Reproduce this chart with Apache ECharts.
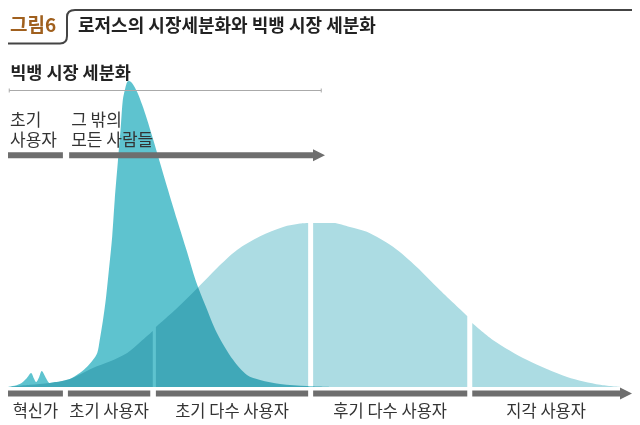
<!DOCTYPE html>
<html>
<head>
<meta charset="utf-8">
<script src="https://cdn.jsdelivr.net/npm/echarts@6/dist/echarts.min.js"></script>
<style>
  html, body { margin: 0; padding: 0; background: #fff; }
  #chart { width: 640px; height: 425px; }
</style>
</head>
<body>
<div id="chart"></div>
<script>
const FONT = '"Noto Sans CJK KR", "Noto Sans", sans-serif';

// 로저스 곡선(종 모양). x: 시간 0~100, y: 상대 규모. '-' = 구간 사이 흰 틈
const rogersX = [0, 3.5, 6.7, 9.9, 13.6, 16.3, 19.1, 21.2, 23.2, 23.45, 23.7, 27.1, 30.4, 33.5, 36.7, 40.4, 44.1, 46.8, 48.1,
  48.5, 48.9, 52.1, 54.8, 57.5, 61.7, 65.5, 69.2, 73.6, 74.0, 74.4, 77.7, 83.2, 89.6, 94.9, 98.1];
const rogersY = [0, 0.7, 1.3, 2.6, 6.2, 8.3, 11.1, 14.7, 18.3, '-', 19.6, 25.8, 32.4, 38.9, 44.8, 49.3, 52.3, 53.4, 53.6,
  '-', 53.6, 53.6, 52.3, 50.7, 45.8, 39.2, 31.7, 23.2, '-', 20.9, 15.4, 8.8, 3.3, 0.7, 0];

// 빅뱅 곡선
const bigBangX = [0, 1.9, 3.0, 3.7, 4.2, 4.5, 5.0, 5.4, 6.1, 6.7, 7.5, 8.7, 9.9, 11.5, 12.8, 13.6, 14.3, 14.7, 15.2, 15.7,
  16.2, 16.7, 17.1, 17.6, 18.1, 18.4, 18.8, 19.1, 19.4, 19.9, 20.7, 21.5, 22.3, 23.9, 25.5, 27.1, 28.7, 30.1, 31.6,
  33.5, 36.1, 38.3, 40.4, 43.6, 47.9, 51.6];
const bigBangY = [0, 1.0, 2.9, 4.6, 2.6, 1.6, 3.3, 5.2, 2.9, 1.3, 1.6, 2.0, 2.6, 4.6, 6.9, 8.8, 11.1, 15.4, 21.6, 29.1,
  38.9, 49.3, 61.1, 73.5, 85.9, 93.8, 97.7, 99.7, 100, 99.3, 96.4, 92.2, 87.3, 76.5, 65.4, 54.6, 44.1, 34.6, 26.8,
  17.6, 8.8, 3.9, 2.3, 1.0, 0.3, 0];

// 로저스 시장 세분화 구간
const segNames = ['혁신가', '초기 사용자', '초기 다수 사용자', '후기 다수 사용자', '지각 사용자'];
const segStart = [0, 9.6, 23.7, 48.9, 74.4];
const segEnd = [8.8, 22.8, 48.1, 73.6, 100];

// 빅뱅 시장 세분화 구간
const bbTitle = '빅뱅 시장 세분화';
const bbNames = ['초기\n사용자', '그 밖의\n모든 사람들'];
const bbStart = [0, 9.8];
const bbEnd = [8.8, 50.8];
const bbSpan = [0.2, 50.2];

const GRAY = '#6e6e6e';
const HEAD = 12;

const chart = echarts.init(document.getElementById('chart'));

const rule = { stroke: '#444', lineWidth: 2, fill: null };

const option = {
  backgroundColor: '#fff',
  animation: false,
  grid: { left: 8, right: 8, top: 50.4, bottom: 38 },
  xAxis: { type: 'value', min: 0, max: 100, show: false },
  yAxis: { type: 'value', min: 0, max: 110, show: false },
  graphic: [
    { type: 'line', shape: { x1: 8, y1: 43.5, x2: 60, y2: 43.5 }, style: rule },
    { type: 'bezierCurve', shape: { x1: 60, y1: 43.5, cpx1: 66, cpy1: 43.5, cpx2: 67, cpy2: 40, x2: 67, y2: 36 }, style: rule },
    { type: 'line', shape: { x1: 67, y1: 36, x2: 67, y2: 17 }, style: rule },
    { type: 'bezierCurve', shape: { x1: 67, y1: 17, cpx1: 67, cpy1: 12.5, cpx2: 69, cpy2: 10, x2: 75, y2: 10 }, style: rule },
    { type: 'line', shape: { x1: 75, y1: 10, x2: 632, y2: 10 }, style: rule },
    {
      type: 'text', left: 10, top: 15,
      style: { text: '그림6', font: 'bold 19px ' + FONT, fill: '#a0601e' }
    },
    {
      type: 'text', left: 78, top: 16,
      style: { text: '로저스의 시장세분화와 빅뱅 시장 세분화', font: 'bold 18px ' + FONT, fill: '#222' }
    }
  ],
  series: [
    {
      name: '로저스',
      type: 'line',
      z: 2,
      smooth: 0.3,
      showSymbol: false,
      silent: true,
      lineStyle: { width: 0 },
      areaStyle: { color: '#acdce3', opacity: 1 },
      data: rogersX.map((x, i) => [x, rogersY[i]])
    },
    {
      name: '빅뱅',
      type: 'line',
      z: 3,
      smooth: 0.3,
      showSymbol: false,
      silent: true,
      blendMode: 'multiply',
      lineStyle: { width: 0 },
      areaStyle: { color: '#5ec3cf', opacity: 1 },
      data: bigBangX.map((x, i) => [x, bigBangY[i]])
    },
    {
      // 아래쪽 구간 막대 + 이름
      type: 'custom',
      z: 4,
      silent: true,
      data: segNames.map((n, i) => [segStart[i], segEnd[i], i]),
      renderItem: (params, api) => {
        const i = api.value(2);
        const p0 = api.coord([api.value(0), 0]);
        const p1 = api.coord([api.value(1), 0]);
        const y = p0[1] + 6.5;
        const last = i === segNames.length - 1;
        const barEnd = last ? p1[0] - HEAD : p1[0];
        const children = [
          { type: 'rect', shape: { x: p0[0], y: y - 3, width: barEnd - p0[0], height: 6 }, style: { fill: GRAY } },
          {
            type: 'text',
            style: {
              text: segNames[i], x: (p0[0] + barEnd) / 2, y: y + 17,
              align: 'center', verticalAlign: 'middle', font: '16.5px ' + FONT, fill: '#333'
            }
          }
        ];
        if (last) {
          children.push({ type: 'polygon', shape: { points: [[barEnd, y - 6], [p1[0], y], [barEnd, y + 6]] }, style: { fill: GRAY } });
        }
        return { type: 'group', children };
      }
    },
    {
      // 빅뱅 구간 화살표
      type: 'custom',
      z: 4,
      silent: true,
      data: bbNames.map((n, i) => [bbStart[i], bbEnd[i], i]),
      renderItem: (params, api) => {
        const i = api.value(2);
        const p0 = api.coord([api.value(0), 75.7]);
        const p1 = api.coord([api.value(1), 75.7]);
        const y = p0[1];
        const last = i === bbNames.length - 1;
        const barEnd = last ? p1[0] - HEAD : p1[0];
        const children = [
          { type: 'rect', shape: { x: p0[0], y: y - 3, width: barEnd - p0[0], height: 6 }, style: { fill: GRAY } },
          {
            type: 'text',
            style: {
              text: bbNames[i], x: p0[0] + 2, y: y - 6,
              align: 'left', verticalAlign: 'bottom', lineHeight: 20, font: '17px ' + FONT, fill: '#333'
            }
          }
        ];
        if (last) {
          children.push({ type: 'polygon', shape: { points: [[barEnd, y - 6], [p1[0], y], [barEnd, y + 6]] }, style: { fill: GRAY } });
        }
        return { type: 'group', children };
      }
    },
    {
      // 빅뱅 시장 세분화 범위
      type: 'custom',
      z: 4,
      silent: true,
      data: [[bbSpan[0], bbSpan[1]]],
      renderItem: (params, api) => {
        const p0 = api.coord([api.value(0), 97.2]);
        const p1 = api.coord([api.value(1), 97.2]);
        const y = Math.round(p0[1]) + 0.5;
        const ls = { stroke: '#aaa', lineWidth: 1 };
        return {
          type: 'group',
          children: [
            { type: 'line', shape: { x1: p0[0], y1: y, x2: p1[0], y2: y }, style: ls },
            { type: 'line', shape: { x1: p0[0], y1: y - 2, x2: p0[0], y2: y + 2 }, style: ls },
            { type: 'line', shape: { x1: p1[0], y1: y - 2, x2: p1[0], y2: y + 2 }, style: ls },
            {
              type: 'text',
              style: {
                text: bbTitle, x: p0[0] + 1, y: y - 18, align: 'left', verticalAlign: 'middle',
                font: 'bold 17.5px ' + FONT, fill: '#222'
              }
            }
          ]
        };
      }
    }
  ]
};

chart.setOption(option);
</script>
</body>
</html>
